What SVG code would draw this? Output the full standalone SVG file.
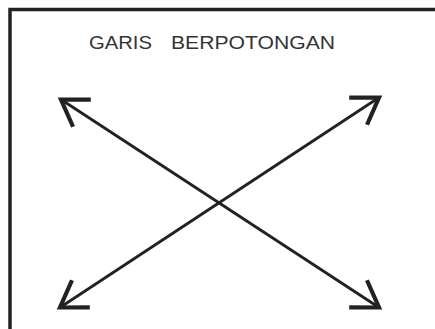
<svg xmlns="http://www.w3.org/2000/svg" width="435" height="329" viewBox="0 0 435 329">
<style>
.frame{fill:none;stroke:#222;stroke-width:3.5}
.title{font-family:"Liberation Sans",Arial,sans-serif;font-size:18px;fill:#333}
.line{fill:none;stroke:#222;stroke-width:2.8}
.head{fill:none;stroke:#222;stroke-width:4.2;stroke-linejoin:miter;stroke-miterlimit:10}
</style>
<defs>
<marker id="arrow" markerUnits="userSpaceOnUse" viewBox="-30 -20 34 40" refX="0" refY="0" markerWidth="34" markerHeight="40" orient="auto-start-reverse" overflow="visible">
<path class="head" d="M-25,-16.2 L0,0 L-25,16.2"/>
</marker>
</defs>
<g id="frame">
<path class="frame" d="M10,329 L10,9.5 L435,9.5"/>
</g>
<g id="title">
<text class="title" x="89" y="49" textLength="63" lengthAdjust="spacingAndGlyphs">GARIS</text>
<text class="title" x="171" y="49" textLength="164" lengthAdjust="spacingAndGlyphs">BERPOTONGAN</text>
</g>
<g id="connectors">
<line class="line" x1="61" y1="99.5" x2="379" y2="307.5" marker-start="url(#arrow)" marker-end="url(#arrow)"/>
<line class="line" x1="60" y1="307.5" x2="379" y2="97.5" marker-start="url(#arrow)" marker-end="url(#arrow)"/>
</g>
</svg>
